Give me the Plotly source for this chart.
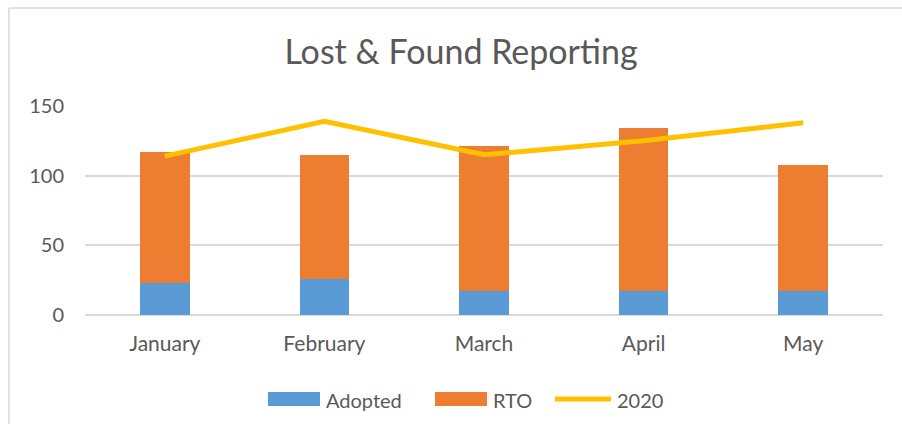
import plotly.graph_objects as go

months = ["January", "February", "March", "April", "May"]
adopted = [23, 26, 17, 17, 17]
rto = [94, 89, 104, 117, 91]
line_2020 = [114, 139, 115, 125, 138]
y_ticks = [0, 50, 100, 150]

TEXT = "#595959"
GRID = "#D9D9D9"
FONT = "Lato, 'Open Sans', sans-serif"
W, H = 902, 434
L, R, T, B = 85, 19, 106, 119

series = [
    ("Adopted", "#5B9BD5", "bar"),
    ("RTO", "#ED7D31", "bar"),
    ("2020", "#FFC000", "line"),
]


def px_x(px):
    return (px - L) / (W - L - R)


def px_y(py):
    return (H - B - py) / (H - T - B)


fig = go.Figure()
fig.add_trace(go.Bar(x=months, y=adopted, name="Adopted", marker=dict(color=series[0][1], line=dict(width=0))))
fig.add_trace(go.Bar(x=months, y=rto, name="RTO", marker=dict(color=series[1][1], line=dict(width=0))))
fig.add_trace(go.Scatter(x=months, y=line_2020, name="2020", mode="lines",
                         line=dict(color=series[2][1], width=5)))

# legend drawn by hand so the swatches look like the original
shapes = [
    dict(type="line", xref="paper", yref="paper", x0=px_x(9), x1=px_x(910), y0=px_y(8), y1=px_y(8),
         line=dict(color=GRID, width=1.5)),
    dict(type="line", xref="paper", yref="paper", x0=px_x(9), x1=px_x(9), y0=px_y(8), y1=px_y(424),
         line=dict(color=GRID, width=1.5)),
]
annotations = []
legend_x = [268, 435, 555]
swatch_w = [52, 52, 56]
for (name, color, kind), x0, w in zip(series, legend_x, swatch_w):
    if kind == "bar":
        shapes.append(dict(type="rect", xref="paper", yref="paper", x0=px_x(x0), x1=px_x(x0 + w),
                           y0=px_y(406), y1=px_y(392), fillcolor=color, line=dict(width=0)))
    else:
        shapes.append(dict(type="line", xref="paper", yref="paper", x0=px_x(x0), x1=px_x(x0 + w),
                           y0=px_y(399), y1=px_y(399), line=dict(color=color, width=5)))
    annotations.append(dict(text=name, xref="paper", yref="paper", x=px_x(x0 + w + 4), y=px_y(400),
                            xanchor="left", yanchor="middle", showarrow=False,
                            font=dict(size=20, color=TEXT, family=FONT)))

fig.update_layout(
    width=W,
    height=H,
    barmode="stack",
    bargap=0.69,
    paper_bgcolor="white",
    plot_bgcolor="white",
    showlegend=False,
    font=dict(family=FONT, color=TEXT, size=20),
    title=dict(text="Lost & Found Reporting", x=461 / W, xanchor="center", y=(H - 52) / H, yanchor="middle",
               font=dict(size=34, color=TEXT, family=FONT)),
    margin=dict(l=L, r=R, t=T, b=B),
    xaxis=dict(showgrid=False, showline=False, ticks="", tickfont=dict(size=21), ticklabelstandoff=14,
               fixedrange=True),
    yaxis=dict(range=[0, 150], tickvals=y_ticks, gridcolor=GRID, gridwidth=1.5, zeroline=True,
               zerolinecolor=GRID, zerolinewidth=1.5, tickfont=dict(size=20), ticklabelstandoff=20,
               fixedrange=True),
    shapes=shapes,
    annotations=annotations,
)

fig.write_html("out.html", config={"displayModeBar": False},
               post_script="document.body.style.margin='0';")
